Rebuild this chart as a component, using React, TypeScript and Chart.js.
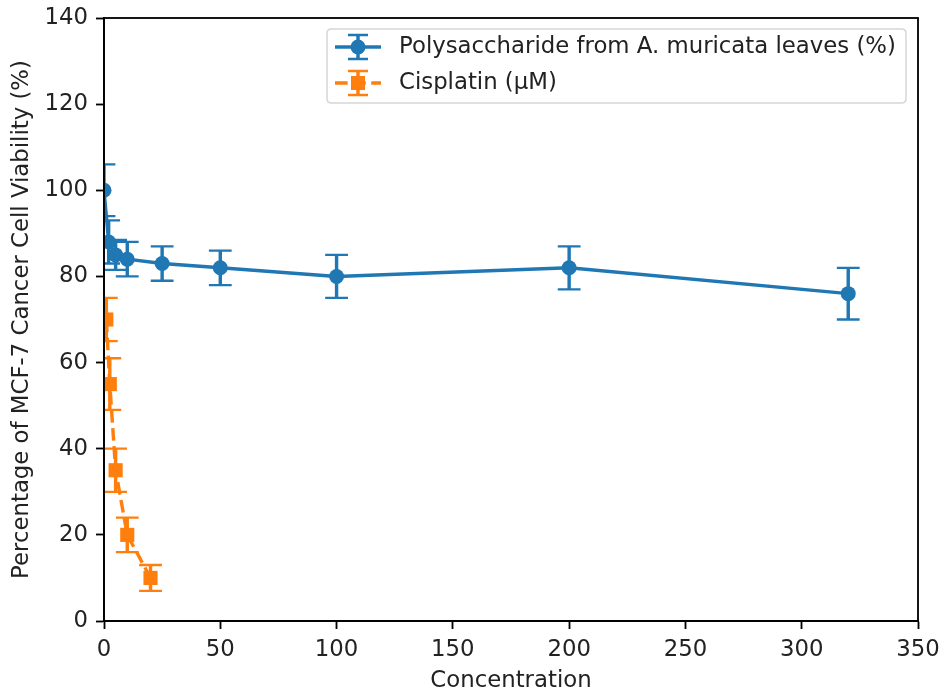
import React, { useEffect, useRef } from "react";
import { Chart, registerables } from "chart.js";

Chart.register(...registerables);

// ---- data ----
const polyX = [0, 2, 5, 10, 25, 50, 100, 200, 320];
const polyY = [100, 88, 85, 84, 83, 82, 80, 82, 76];
const polyErr = [6, 5, 3.5, 4, 4, 4, 5, 5, 6];

const cisX = [1, 2.5, 5, 10, 20];
const cisY = [70, 55, 35, 20, 10];
const cisErr = [5, 6, 5, 4, 3];

const xTicks = [0, 50, 100, 150, 200, 250, 300, 350];
const yTicks = [0, 20, 40, 60, 80, 100, 120, 140];

const seriesLabels = ["Polysaccharide from A. muricata leaves (%)", "Cisplatin (\u03bcM)"];
const xTitle = "Concentration";
const yTitle = "Percentage of MCF-7 Cancer Cell Viability (%)";

const BLUE = "#1f77b4";
const ORANGE = "#ff7f0e";
const FONT = "DejaVu Sans";
const FS = 22.8;
const PT = 2.28;

const errorBarPlugin = {
  id: "errorBars",
  beforeDatasetsDraw(chart: any) {
    const { ctx, chartArea, scales } = chart;
    const xs = scales.x;
    const ys = scales.y;
    ctx.save();
    ctx.beginPath();
    ctx.rect(chartArea.left, chartArea.top, chartArea.right - chartArea.left, chartArea.bottom - chartArea.top);
    ctx.clip();
    chart.data.datasets.forEach((ds: any) => {
      const errs: number[] = ds.errors || [];
      ctx.strokeStyle = ds.borderColor;
      ds.data.forEach((p: any, i: number) => {
        const e = errs[i];
        if (e == null) return;
        const px = xs.getPixelForValue(p.x);
        const yt = ys.getPixelForValue(p.y + e);
        const yb = ys.getPixelForValue(p.y - e);
        ctx.setLineDash([]);
        ctx.lineWidth = 1.5 * PT;
        ctx.beginPath();
        ctx.moveTo(px, yt);
        ctx.lineTo(px, yb);
        ctx.stroke();
        const cw = 5 * PT;
        ctx.lineWidth = 1.0 * PT;
        ctx.beginPath();
        ctx.moveTo(px - cw, yt);
        ctx.lineTo(px + cw, yt);
        ctx.moveTo(px - cw, yb);
        ctx.lineTo(px + cw, yb);
        ctx.stroke();
      });
    });
    ctx.restore();
  },
  afterDraw(chart: any) {
    const { ctx, chartArea } = chart;
    ctx.save();
    // frame (top & right spines)
    ctx.strokeStyle = "#000";
    ctx.lineWidth = 0.8 * PT;
    ctx.strokeRect(chartArea.left, chartArea.top, chartArea.right - chartArea.left, chartArea.bottom - chartArea.top);

    // legend
    const bx = 327, by = 29, bw = 906 - 327, bh = 103 - 29, r = 4.5;
    ctx.beginPath();
    ctx.moveTo(bx + r, by);
    ctx.lineTo(bx + bw - r, by);
    ctx.quadraticCurveTo(bx + bw, by, bx + bw, by + r);
    ctx.lineTo(bx + bw, by + bh - r);
    ctx.quadraticCurveTo(bx + bw, by + bh, bx + bw - r, by + bh);
    ctx.lineTo(bx + r, by + bh);
    ctx.quadraticCurveTo(bx, by + bh, bx, by + bh - r);
    ctx.lineTo(bx, by + r);
    ctx.quadraticCurveTo(bx, by, bx + r, by);
    ctx.closePath();
    ctx.fillStyle = "rgba(255,255,255,0.8)";
    ctx.fill();
    ctx.strokeStyle = "rgba(204,204,204,0.8)";
    ctx.lineWidth = 1.5;
    ctx.stroke();

    const rows = [47, 83];
    const hx0 = 335, hx1 = 381, hc = (hx0 + hx1) / 2;
    chart.data.datasets.forEach((ds: any, i: number) => {
      const cy = rows[i];
      ctx.strokeStyle = ds.borderColor;
      ctx.fillStyle = ds.borderColor;
      // line
      ctx.lineWidth = 1.5 * PT;
      ctx.setLineDash(ds.borderDash || []);
      ctx.lineDashOffset = 0;
      ctx.beginPath();
      ctx.moveTo(hx0, cy);
      ctx.lineTo(hx1, cy);
      ctx.stroke();
      ctx.setLineDash([]);
      // error bar
      const eh = 12;
      ctx.beginPath();
      ctx.moveTo(hc, cy - eh);
      ctx.lineTo(hc, cy + eh);
      ctx.stroke();
      ctx.lineWidth = 1.0 * PT;
      ctx.beginPath();
      ctx.moveTo(hc - 10, cy - eh);
      ctx.lineTo(hc + 10, cy - eh);
      ctx.moveTo(hc - 10, cy + eh);
      ctx.lineTo(hc + 10, cy + eh);
      ctx.stroke();
      // marker
      if (ds.pointStyle === "rect") {
        ctx.fillRect(hc - 7, cy - 7, 14, 14);
      } else {
        ctx.beginPath();
        ctx.arc(hc, cy, 7.5, 0, Math.PI * 2);
        ctx.fill();
      }
      // text
      ctx.fillStyle = "#222";
      ctx.font = `${FS}px "${FONT}"`;
      ctx.textAlign = "left";
      ctx.textBaseline = "middle";
      ctx.fillText(ds.label, 399, cy);
    });
    ctx.restore();
  },
};

export default function App() {
  const ref = useRef<HTMLCanvasElement>(null);
  useEffect(() => {
    document.body.style.margin = "0";
    const canvas = ref.current!;
    const chart = new Chart(canvas, {
      type: "line",
      data: {
        datasets: [
          {
            label: seriesLabels[0],
            data: polyX.map((x, i) => ({ x, y: polyY[i] })),
            errors: polyErr,
            borderColor: BLUE,
            backgroundColor: BLUE,
            borderWidth: 1.5 * PT,
            pointStyle: "circle",
            pointRadius: 7.5,
            pointBorderWidth: 0,
            pointHoverRadius: 7.5,
            tension: 0,
            clip: 0,
          } as any,
          {
            label: seriesLabels[1],
            data: cisX.map((x, i) => ({ x, y: cisY[i] })),
            errors: cisErr,
            borderColor: ORANGE,
            backgroundColor: ORANGE,
            borderWidth: 1.5 * PT,
            borderDash: [3.7 * 1.5 * PT, 1.6 * 1.5 * PT],
            pointStyle: "rect",
            pointRadius: 10,
            pointBorderWidth: 0,
            pointHoverRadius: 10,
            tension: 0,
            clip: 0,
          } as any,
        ],
      },
      options: {
        responsive: false,
        animation: false,
        events: [],
        layout: { padding: { left: 0, top: 18, right: 21, bottom: 0 } },
        plugins: { legend: { display: false }, tooltip: { enabled: false } },
        scales: {
          x: {
            type: "linear",
            min: 0,
            max: 350,
            afterBuildTicks: (s: any) => {
              s.ticks = xTicks.map((v) => ({ value: v }));
            },
            afterFit: (s: any) => {
              s.height = 71;
              s.paddingLeft = 0;
              s.paddingRight = 0;
            },
            ticks: {
              color: "#222",
              font: { family: FONT, size: FS },
              padding: 7,
              maxRotation: 0,
              autoSkip: false,
            },
            grid: {
              drawOnChartArea: false,
              drawTicks: true,
              tickLength: 3.5 * PT,
              tickWidth: 0.8 * PT,
              tickColor: "#000",
            },
            border: { display: true, color: "#000", width: 0.8 * PT },
            title: {
              display: true,
              text: xTitle,
              color: "#222",
              font: { family: FONT, size: FS, lineHeight: 1 },
              padding: { top: 0, bottom: 0 },
            },
          },
          y: {
            type: "linear",
            min: 0,
            max: 140,
            afterBuildTicks: (s: any) => {
              s.ticks = yTicks.map((v) => ({ value: v }));
            },
            afterFit: (s: any) => {
              s.width = 104;
              s.paddingTop = 0;
              s.paddingBottom = 0;
            },
            ticks: {
              color: "#222",
              font: { family: FONT, size: FS },
              padding: 3.5 * PT,
              autoSkip: false,
            },
            grid: {
              drawOnChartArea: false,
              drawTicks: true,
              tickLength: 3.5 * PT,
              tickWidth: 0.8 * PT,
              tickColor: "#000",
            },
            border: { display: true, color: "#000", width: 0.8 * PT },
            title: {
              display: true,
              text: yTitle,
              color: "#222",
              font: { family: FONT, size: FS, lineHeight: 1 },
              padding: { top: 11, bottom: 0 },
            },
          },
        },
      },
      plugins: [errorBarPlugin],
    } as any);
    return () => chart.destroy();
  }, []);
  return (
    <div style={{ width: 939, height: 692 }}>
      <canvas ref={ref} width={939} height={692} style={{ display: "block" }} />
    </div>
  );
}
